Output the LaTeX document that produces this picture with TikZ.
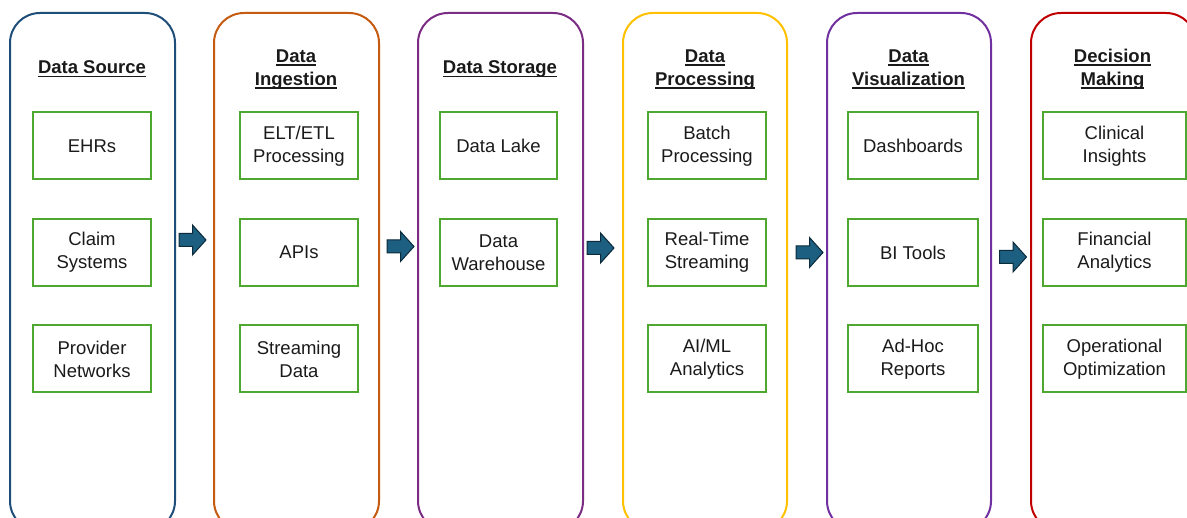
\documentclass[tikz,border=0pt]{standalone}
\usepackage{fontspec}
\setmainfont{Liberation Sans}
\definecolor{cA}{HTML}{1F4E79}
\definecolor{cB}{HTML}{C55A11}
\definecolor{cC}{HTML}{7B2C83}
\definecolor{cD}{HTML}{FFC000}
\definecolor{cE}{HTML}{7030A0}
\definecolor{cF}{HTML}{C00000}
\definecolor{gbox}{HTML}{4EA72E}
\definecolor{arrfill}{HTML}{1D5F80}
\definecolor{arrdraw}{HTML}{0B2A3A}
\definecolor{txt}{HTML}{1A1A1A}
\newsavebox\myulbox
\newcommand\myul[1]{\sbox\myulbox{#1}\rlap{\rule[-3.3pt]{\wd\myulbox}{1.4pt}}\usebox\myulbox}
\tikzset{
  column/.style={rounded corners=30pt, line width=2pt},
  title/.style={align=center, font=\fontsize{18.5}{23}\selectfont\bfseries, text=txt, inner sep=0pt, anchor=base},
  item/.style={draw=gbox, line width=2pt, minimum height=67pt, align=center,
     font=\fontsize{18.5}{23}\selectfont, text=txt, inner sep=0pt},
  flowarr/.pic={\draw[fill=arrfill, draw=arrdraw, line width=1pt, line join=miter]
     (-13.5,-6.5) -- (0,-6.5) -- (0,-15) -- (13.5,0) -- (0,15) -- (0,6.5) -- (-13.5,6.5) -- cycle;}
}
\begin{document}
\begin{tikzpicture}[x=1pt,y=-1pt]
\useasboundingbox (0,0) rectangle (1187,518);
\clip (0,0) rectangle (1187,518);
% columns
\draw[column, draw=cA] (10,13) rectangle (175,531);
\draw[column, draw=cB] (214,13) rectangle (379,531);
\draw[column, draw=cC] (418,13) rectangle (583,531);
\draw[column, draw=cD] (623,13) rectangle (787,531);
\draw[column, draw=cE] (827,13) rectangle (991,531);
\draw[column, draw=cF] (1031,13) rectangle (1196,531);
% titles
\node[title] (t1) at (92,74) {\myul{Data Source}};
\node[title] (t2) at (296,85.5) {\myul{Data}\\\myul{Ingestion}};
\node[title] (t3) at (500,74) {\myul{Data Storage}};
\node[title] (t4) at (705,85.5) {\myul{Data}\\\myul{Processing}};
\node[title] (t5) at (908.5,85.5) {\myul{Data}\\\myul{Visualization}};
\node[title] (t6) at (1112.5,85.5) {\myul{Decision}\\\myul{Making}};
% column 1
\node[item, minimum width=118pt] (a1) at (92,146) {EHRs};
\node[item, minimum width=118pt] (a2) at (92,252.5) {Claim\\Systems};
\node[item, minimum width=118pt] (a3) at (92,359) {Provider\\Networks};
% column 2
\node[item, minimum width=118pt] (b1) at (299,146) {ELT/ETL\\Processing};
\node[item, minimum width=118pt] (b2) at (299,252.5) {APIs};
\node[item, minimum width=118pt] (b3) at (299,359) {Streaming\\Data};
% column 3
\node[item, minimum width=117pt] (c1) at (498.5,146) {Data Lake};
\node[item, minimum width=117pt] (c2) at (498.5,252.5) {Data\\Warehouse};
% column 4
\node[item, minimum width=118pt] (d1) at (707,146) {Batch\\Processing};
\node[item, minimum width=118pt] (d2) at (707,252.5) {Real-Time\\Streaming};
\node[item, minimum width=118pt] (d3) at (707,359) {AI/ML\\Analytics};
% column 5
\node[item, minimum width=130pt] (e1) at (913,146) {Dashboards};
\node[item, minimum width=130pt] (e2) at (913,252.5) {BI Tools};
\node[item, minimum width=130pt] (e3) at (913,359) {Ad-Hoc\\Reports};
% column 6
\node[item, minimum width=143pt] (f1) at (1114.5,146) {Clinical\\Insights};
\node[item, minimum width=143pt] (f2) at (1114.5,252.5) {Financial\\Analytics};
\node[item, minimum width=143pt] (f3) at (1114.5,359) {Operational\\Optimization};
% arrows
\pic at (192.5,240) {flowarr};
\pic at (400.5,246.5) {flowarr};
\pic at (600.5,248) {flowarr};
\pic at (809.5,252.5) {flowarr};
\pic at (1013,257) {flowarr};
\end{tikzpicture}
\end{document}
